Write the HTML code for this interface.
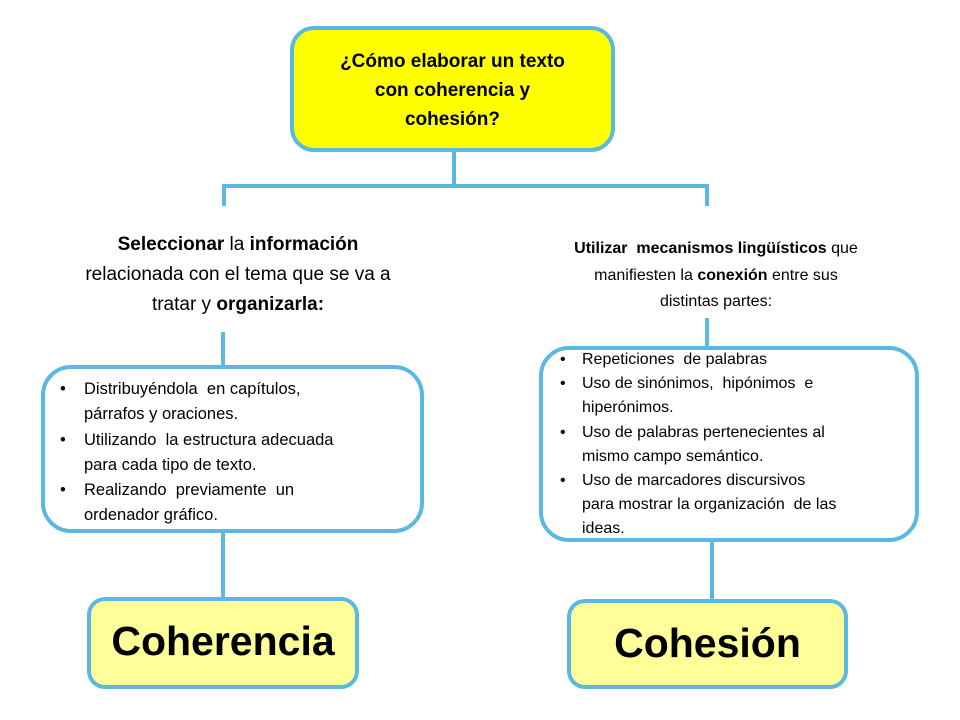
<!DOCTYPE html>
<html><head><meta charset="utf-8"><style>
body{margin:0;width:960px;height:720px;background:#fff;position:relative;overflow:hidden;font-family:"Liberation Sans",Arial,sans-serif;color:#000}
.b{position:absolute;border:4px solid #5bb8e0;box-sizing:border-box}
.l{position:absolute;background:#5bb8e0}
.t{position:absolute;white-space:nowrap;line-height:1}
.c{text-align:center}
.k{display:inline-block;width:24px}
.k2{display:inline-block;width:22px}
</style></head><body>
<div class="l" style="left:452px;top:150px;width:4px;height:38px"></div>
<div class="l" style="left:222px;top:184px;width:487px;height:4px"></div>
<div class="l" style="left:222px;top:184px;width:4px;height:22px"></div>
<div class="l" style="left:705px;top:184px;width:4px;height:22px"></div>
<div class="l" style="left:221px;top:332px;width:4px;height:36px"></div>
<div class="l" style="left:705px;top:318px;width:4px;height:31px"></div>
<div class="l" style="left:221px;top:530px;width:4px;height:70px"></div>
<div class="l" style="left:710px;top:538px;width:4px;height:64px"></div>

<div class="b" style="left:290px;top:26px;width:325px;height:126px;background:#ffff00;border-radius:24px"></div>
<div class="t c" style="left:290px;width:325px;top:47px;font-size:19px;font-weight:bold;line-height:29px;white-space:normal">¿Cómo elaborar un texto<br>con coherencia y<br>cohesión?</div>

<div class="t c" style="left:20px;width:436px;top:230px;font-size:19px;line-height:30px;white-space:normal"><b>Seleccionar</b> la <b>información</b><br>relacionada con el tema que se va a<br>tratar y <b>organizarla:</b></div>

<div class="t c" style="left:500px;width:432px;top:236px;font-size:16px;line-height:26.5px;white-space:normal"><b>Utilizar &nbsp;mecanismos lingüísticos</b> que<br>manifiesten la <b>conexión</b> entre sus<br>distintas partes:</div>

<div class="b" style="left:41px;top:365px;width:383px;height:168px;background:#fff;border-radius:30px"></div>
<div style="position:absolute;left:60px;top:377px;font-size:16.5px;line-height:25.3px;white-space:nowrap">
<div><span class="k">•</span>Distribuyéndola &nbsp;en capítulos,</div>
<div><span class="k"></span>párrafos y oraciones.</div>
<div><span class="k">•</span>Utilizando &nbsp;la estructura adecuada</div>
<div><span class="k"></span>para cada tipo de texto.</div>
<div><span class="k">•</span>Realizando &nbsp;previamente &nbsp;un</div>
<div><span class="k"></span>ordenador gráfico.</div>
</div>

<div class="b" style="left:539px;top:346px;width:380px;height:196px;background:#fff;border-radius:30px"></div>
<div style="position:absolute;left:560px;top:348px;font-size:16px;line-height:24.2px;white-space:nowrap">
<div><span class="k2">•</span>Repeticiones &nbsp;de palabras</div>
<div><span class="k2">•</span>Uso de sinónimos, &nbsp;hipónimos &nbsp;e</div>
<div><span class="k2"></span>hiperónimos.</div>
<div><span class="k2">•</span>Uso de palabras pertenecientes al</div>
<div><span class="k2"></span>mismo campo semántico.</div>
<div><span class="k2">•</span>Uso de marcadores discursivos</div>
<div><span class="k2"></span>para mostrar la organización &nbsp;de las</div>
<div><span class="k2"></span>ideas.</div>
</div>

<div class="b" style="left:87px;top:597px;width:272px;height:92px;background:#ffff99;border-radius:18px"></div>
<div class="t c" style="left:87px;width:272px;top:621px;font-size:41px;font-weight:bold">Coherencia</div>
<div class="b" style="left:567px;top:599px;width:281px;height:90px;background:#ffff99;border-radius:18px"></div>
<div class="t c" style="left:567px;width:281px;top:623px;font-size:41px;font-weight:bold">Cohesión</div>
</body></html>
